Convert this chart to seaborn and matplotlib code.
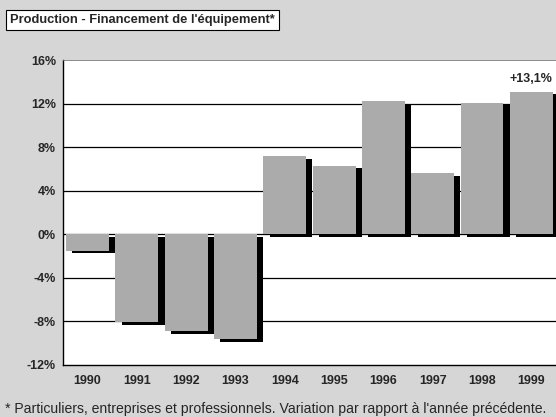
import matplotlib
matplotlib.use("Agg")
import matplotlib.pyplot as plt
import matplotlib.patheffects as pe
import pandas as pd
import seaborn as sns

# data
years = ["1990", "1991", "1992", "1993", "1994", "1995", "1996", "1997", "1998", "1999"]
growth = [-1.5, -8.1, -8.9, -9.6, 7.2, 6.3, 12.2, 5.6, 12.1, 13.1]
yticks = [-12, -8, -4, 0, 4, 8, 12, 16]
ytick_labels = ["-12%", "-8%", "-4%", "0%", "4%", "8%", "12%", "16%"]

df = pd.DataFrame({"year": years, "growth": growth})

sns.set_theme(style="white")
plt.rcParams["font.family"] = ["Liberation Sans", "DejaVu Sans"]

fig = plt.figure(figsize=(5.56, 4.17), dpi=100, facecolor="#d6d6d6")
ax = fig.add_axes([0.113, 0.125, 0.887, 0.731])
ax.set_facecolor("white")

sns.barplot(data=df, x="year", y="growth", color="#ababab", width=0.87,
            saturation=1, ax=ax, zorder=3)

# drop shadow on the bars
for bar in ax.patches:
    bar.set_path_effects([pe.SimplePatchShadow(offset=(4.5, -2), shadow_rgbFace="black", alpha=1),
                          pe.Normal()])
    bar.set_linewidth(0)

ax.set_ylim(-12, 16)
ax.set_yticks(yticks)
ax.set_yticklabels(ytick_labels, fontsize=9, fontweight="bold")
ax.tick_params(axis="x", labelsize=9, pad=7, length=0)
ax.tick_params(axis="y", pad=5, length=0)
for lab in ax.get_xticklabels():
    lab.set_fontweight("bold")
ax.set_xlabel("")
ax.set_ylabel("")

# horizontal black grid lines
for t in yticks[1:-1]:
    ax.axhline(t, color="black", lw=0.9, zorder=1)

for side in ["left", "bottom"]:
    ax.spines[side].set_color("black")
    ax.spines[side].set_linewidth(1.0)
ax.spines["top"].set_color("#777777")
ax.spines["top"].set_linewidth(0.6)
ax.spines["right"].set_visible(False)

ax.text(9, growth[-1] + 0.6, "+13,1%", ha="center", va="bottom",
        fontsize=9, fontweight="bold")

fig.text(0.018, 0.952, "Production - Financement de l'équipement*", fontsize=9.3,
         fontweight="bold", ha="left", va="center",
         bbox=dict(boxstyle="square,pad=0.3", facecolor="white", edgecolor="black", lw=0.8))

fig.text(0.009, 0.018, "* Particuliers, entreprises et professionnels. Variation par rapport à l'année précédente.",
         fontsize=10.1, ha="left", va="center")

fig.savefig("out.png", dpi=100, facecolor=fig.get_facecolor())
